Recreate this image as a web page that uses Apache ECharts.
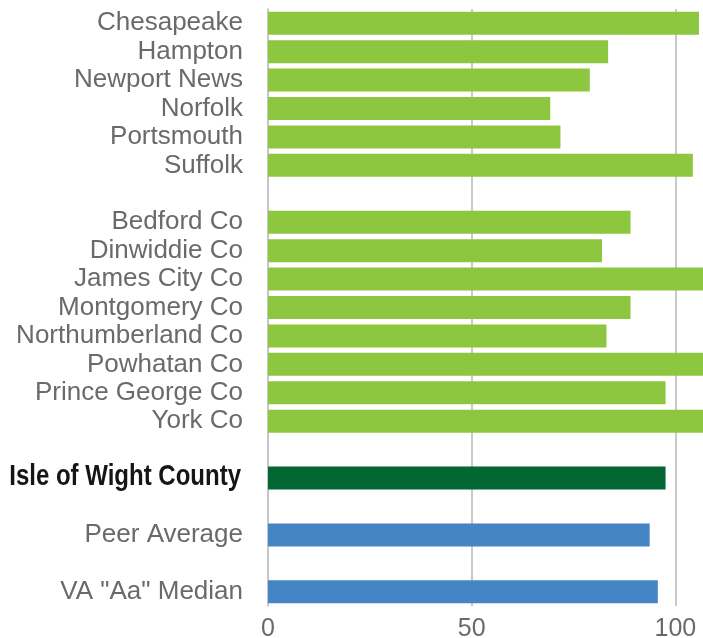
<!DOCTYPE html>
<html>
<head>
<meta charset="utf-8">
<script src="https://cdn.jsdelivr.net/npm/echarts@6/dist/echarts.min.js"></script>
<style>
  html, body { margin: 0; padding: 0; background: #fff; }
  #chart { width: 703px; height: 638px; }
</style>
</head>
<body>
<div id="chart"></div>
<script>
const cityNames = ['Chesapeake', 'Hampton', 'Newport News', 'Norfolk', 'Portsmouth', 'Suffolk']
const cityValues = [105.8, 83.5, 79.0, 69.3, 71.8, 104.3]

const countyNames = ['Bedford Co', 'Dinwiddie Co', 'James City Co', 'Montgomery Co',
  'Northumberland Co', 'Powhatan Co', 'Prince George Co', 'York Co']
const countyValues = [89.0, 82.0, 110, 89.0, 83.1, 112, 97.6, 110]

const localityName = 'Isle of Wight County'
const localityValue = 97.6

const benchNames = ['Peer Average', 'VA "Aa" Median']
const benchValues = [93.7, 95.7]

const xTicks = [0, 50, 100]

// build the category list with blank rows between groups
const GAP = '__gap'
let categories = []
let barData = []
let gapNo = 0
function addGap() {
  categories.push(GAP + (gapNo++))
  barData.push('-')
}
function addGroup(names, values, color) {
  names.forEach((n, i) => {
    categories.push(n)
    barData.push({ value: values[i], itemStyle: { color: color } })
  })
}
addGroup(cityNames, cityValues, '#8dc63f')
addGap()
addGroup(countyNames, countyValues, '#8dc63f')
addGap()
addGroup([localityName], [localityValue], '#036734')
addGap()
addGroup([benchNames[0]], [benchValues[0]], '#4585c6')
addGap()
addGroup([benchNames[1]], [benchValues[1]], '#4585c6')

const chart = echarts.init(document.getElementById('chart'))
chart.setOption({
  animation: false,
  grid: {
    left: 268,
    top: 9,
    bottom: 32,
    right: -176,
    outerBoundsMode: 'none'
  },
  xAxis: {
    type: 'value',
    min: xTicks[0],
    max: 150,
    interval: xTicks[1] - xTicks[0],
    axisLine: { show: false },
    axisTick: { show: false },
    splitLine: { lineStyle: { color: '#c9c9c9', width: 2 } },
    axisLabel: {
      margin: 11,
      color: '#6a6a6a',
      fontSize: 25,
      fontFamily: 'Liberation Sans, Arial, sans-serif',
      formatter: v => (xTicks.indexOf(v) >= 0 ? String(v) : '')
    }
  },
  yAxis: {
    type: 'category',
    inverse: true,
    data: categories,
    axisLine: { lineStyle: { color: '#c4c4c4', width: 1.5 } },
    axisTick: { length: 7, lineStyle: { color: '#a8a8b4', width: 1.5 } },
    axisLabel: {
      margin: 25,
      interval: 0,
      color: '#6a6a6a',
      fontSize: 26,
      fontFamily: 'Liberation Sans, Arial, sans-serif',
      // the bold county name is drawn separately (condensed)
      formatter: v => (v.indexOf(GAP) === 0 || v === localityName ? '' : v)
    }
  },
  series: [
    {
      type: 'bar',
      data: barData,
      barCategoryGap: '19%',
      clip: true
    }
  ]
})

// condensed bold label for the highlighted county, placed on its category row
const rowY = chart.convertToPixel({ yAxisIndex: 0 }, localityName)
chart.setOption({
  graphic: [{
    type: 'text',
    x: 241,
    y: rowY - 1,
    scaleX: 0.8,
    style: {
      text: localityName,
      fill: '#151515',
      fontSize: 30,
      fontWeight: 'bold',
      fontFamily: 'Liberation Sans, Arial, sans-serif',
      align: 'right',
      textAlign: 'right',
      verticalAlign: 'middle',
      textVerticalAlign: 'middle'
    }
  }]
})
</script>
</body>
</html>
